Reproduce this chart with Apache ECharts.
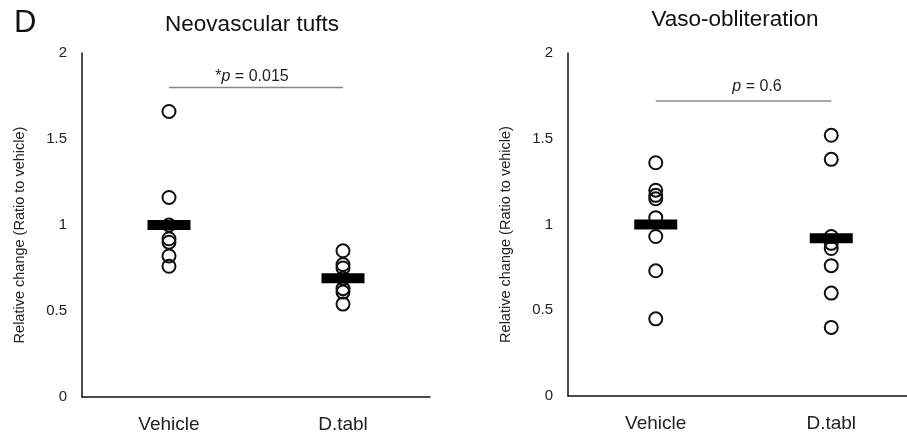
<!DOCTYPE html>
<html><head><meta charset="utf-8">
<script src="https://cdn.jsdelivr.net/npm/echarts@6/dist/echarts.min.js"></script>
<style>html,body{margin:0;padding:0;background:#fff;overflow:hidden;width:907px;height:435px}#c{width:920px;height:435px}</style>
</head><body><div id="c"></div>
<script>
const categories = ['Vehicle', 'D.tabl'];
const yTicks = [0, 0.5, 1, 1.5, 2];

const tuftsVehicle = [1.66, 1.16, 1.0, 0.92, 0.90, 0.82, 0.76];
const tuftsDtabl = [0.85, 0.77, 0.75, 0.69, 0.63, 0.61, 0.54];
const tuftsMeans = [1.0, 0.69];
const tuftsSigY = 1.80;
const tuftsP = '0.015';

const voVehicle = [1.36, 1.20, 1.17, 1.15, 1.04, 0.93, 0.73, 0.45];
const voDtabl = [1.52, 1.38, 0.93, 0.89, 0.86, 0.76, 0.60, 0.40];
const voMeans = [1.0, 0.92];
const voSigY = 1.72;
const voP = '0.6';

const FONT = 'Liberation Sans, Arial, sans-serif';
const chart = echarts.init(document.getElementById('c'));

function pts(vals, idx) { return vals.map(v => [idx, v]); }

function yAxis(gi) {
  return {
    type: 'value', gridIndex: gi, min: yTicks[0], max: yTicks[yTicks.length - 1], interval: 0.5,
    axisLine: { show: true, lineStyle: { color: '#111', width: 1.5 } },
    axisTick: { show: false }, splitLine: { show: false },
    axisLabel: { color: '#222', fontSize: 15, fontFamily: FONT, margin: 15 },
    name: 'Relative change (Ratio to vehicle)', nameLocation: 'middle', nameGap: 55,
    nameTextStyle: { color: '#222', fontSize: 14.5, fontFamily: FONT, padding: [0, 20, 0, 0] }
  };
}
function xAxis(gi) {
  return {
    type: 'category', gridIndex: gi, data: categories, boundaryGap: true,
    axisLine: { show: true, lineStyle: { color: '#111', width: 1.5 } },
    axisTick: { show: false },
    axisLabel: { color: '#222', fontSize: 19, fontFamily: FONT, margin: 18 }
  };
}
const circleStyle = { color: 'rgba(0,0,0,0)', borderColor: '#111', borderWidth: 2, opacity: 1 };
function panelSeries(gi, veh, dt, means, sigY) {
  return [
    { type: 'scatter', xAxisIndex: gi, yAxisIndex: gi, symbol: 'circle', symbolSize: 13,
      itemStyle: circleStyle, data: pts(veh, 0).concat(pts(dt, 1)), z: 2, silent: true },
    { type: 'scatter', xAxisIndex: gi, yAxisIndex: gi, symbol: 'rect', symbolSize: [43, 10],
      itemStyle: { color: '#000', opacity: 1 }, data: means.map((m, i) => [i, m]), z: 3, silent: true },
    { type: 'line', xAxisIndex: gi, yAxisIndex: gi, symbol: 'none',
      lineStyle: { color: '#888', width: 1.5 }, data: [[0, sigY], [1, sigY]], z: 1, silent: true }
  ];
}
const richP = {
  a: { fontSize: 16, color: '#222', fontFamily: FONT, fontWeight: 'normal' },
  p: { fontSize: 16, color: '#222', fontFamily: FONT, fontStyle: 'italic', fontWeight: 'normal' }
};

chart.setOption({
  animation: false,
  grid: [
    { left: 82, top: 53, width: 348, height: 344 },
    { left: 568, top: 53, width: 351, height: 343 }
  ],
  xAxis: [xAxis(0), xAxis(1)],
  yAxis: [yAxis(0), yAxis(1)],
  title: [
    { text: 'D', left: 9, top: 3, textStyle: { fontSize: 31, fontWeight: 'normal', color: '#111', fontFamily: FONT } },
    { text: 'Neovascular tufts', left: 247, top: 8, textAlign: 'center', textStyle: { fontSize: 22.5, fontWeight: 'normal', color: '#111', fontFamily: FONT } },
    { text: 'Vaso-obliteration', left: 730, top: 3, textAlign: 'center', textStyle: { fontSize: 22.5, fontWeight: 'normal', color: '#111', fontFamily: FONT } },
    { text: '{a|*}{p|p}{a| = ' + tuftsP + '}', left: 247, top: 64, textAlign: 'center',
      textStyle: { fontWeight: 'normal', rich: richP } },
    { text: '{p|p}{a| = ' + voP + '}', left: 752, top: 74, textAlign: 'center',
      textStyle: { fontWeight: 'normal', rich: richP } }
  ],
  series: panelSeries(0, tuftsVehicle, tuftsDtabl, tuftsMeans, tuftsSigY)
    .concat(panelSeries(1, voVehicle, voDtabl, voMeans, voSigY))
});
</script></body></html>
